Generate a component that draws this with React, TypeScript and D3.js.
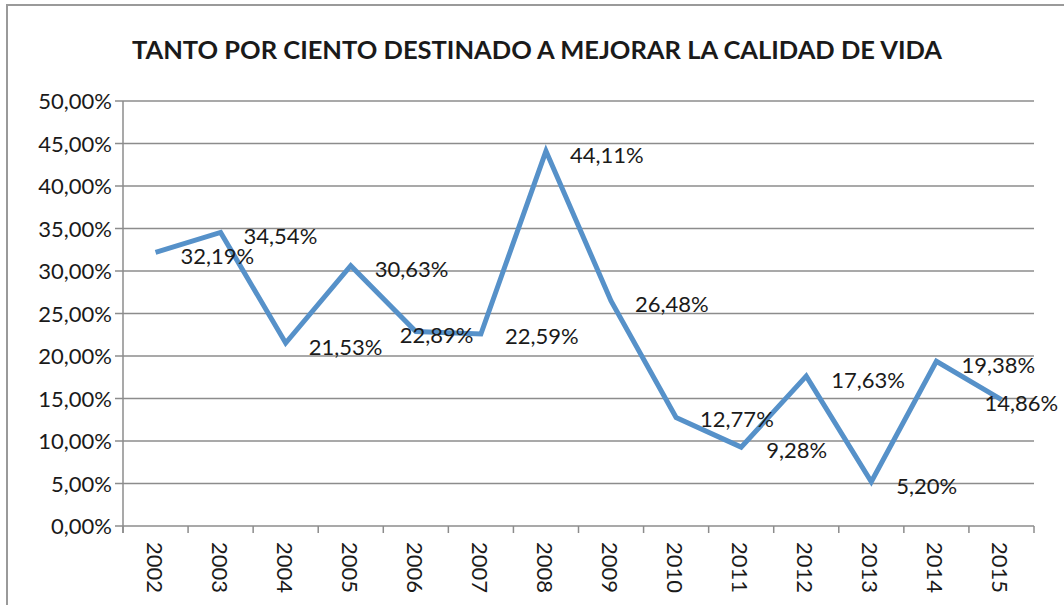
import React from "react";
import * as d3 from "d3";

const years = ["2002", "2003", "2004", "2005", "2006", "2007", "2008", "2009", "2010", "2011", "2012", "2013", "2014", "2015"];
const values = [32.19, 34.54, 21.53, 30.63, 22.89, 22.59, 44.11, 26.48, 12.77, 9.28, 17.63, 5.2, 19.38, 14.86];
const yTicks = [0, 5, 10, 15, 20, 25, 30, 35, 40, 45, 50];
// label placement relative to each point (dx, dy)
const labelShift = [
  [25, 4], [23, 4], [23, 4], [24, 3], [-16, 4], [24, 2], [24, 4],
  [24, 3], [24, 2], [25, 3], [25, 4], [25, 4], [25, 4], [-17, 3],
];

const W = 1064;
const H = 605;
const left = 123;
const right = 1034;
const top = 101;
const bottom = 526;
const FONT = "Lato, 'Open Sans', sans-serif";
const LINE = "#5691c9";

const fmt = (v: number) => v.toFixed(2).replace(".", ",") + "%";

const App = () => {
  const x = d3.scaleBand().domain(years).range([left, right]).padding(0);
  const y = d3.scaleLinear().domain([0, 50]).range([bottom, top]);
  const cx = (i: number) => (x(years[i]) as number) + x.bandwidth() / 2;

  const line = d3
    .line<number>()
    .x((d, i) => cx(i))
    .y((d) => y(d));

  const bounds = years.map((yr) => x(yr) as number).concat([right]);

  return (
    <svg
      width={W}
      height={H}
      style={{ position: "absolute", left: 0, top: 0, background: "#fff" }}
      fontFamily={FONT}
    >
      <rect x={7} y={5} width={W} height={H} fill="none" stroke="#9a9a9a" strokeWidth={2} />

      <text x={537} y={59} textAnchor="middle" fontSize={25.5} fontWeight="bold" fill="#1a1a1a">
        TANTO POR CIENTO DESTINADO A MEJORAR LA CALIDAD DE VIDA
      </text>

      {/* gridlines */}
      {yTicks.map((t) => (
        <g key={t}>
          <line x1={115} x2={right} y1={y(t)} y2={y(t)} stroke="#8c8c8c" strokeWidth={1.5} />
          <text x={112} y={y(t) + 8} textAnchor="end" fontSize={22} fill="#1a1a1a">
            {fmt(t)}
          </text>
        </g>
      ))}

      {/* axes */}
      <line x1={left} x2={left} y1={top} y2={bottom + 7} stroke="#8c8c8c" strokeWidth={1.5} />
      {bounds.map((b, i) => (
        <line key={i} x1={b} x2={b} y1={bottom} y2={bottom + 7} stroke="#8c8c8c" strokeWidth={1.5} />
      ))}
      {years.map((yr, i) => (
        <text
          key={yr}
          transform={`translate(${cx(i) - 9},542) rotate(90)`}
          fontSize={22}
          fill="#1a1a1a"
        >
          {yr}
        </text>
      ))}

      <path d={line(values) || ""} fill="none" stroke={LINE} strokeWidth={5} strokeLinejoin="miter" />

      {values.map((v, i) => (
        <text
          key={i}
          x={cx(i) + labelShift[i][0]}
          y={y(v) + labelShift[i][1] + 8}
          fontSize={22}
          fill="#1a1a1a"
        >
          {fmt(v)}
        </text>
      ))}
    </svg>
  );
};

export default App;
